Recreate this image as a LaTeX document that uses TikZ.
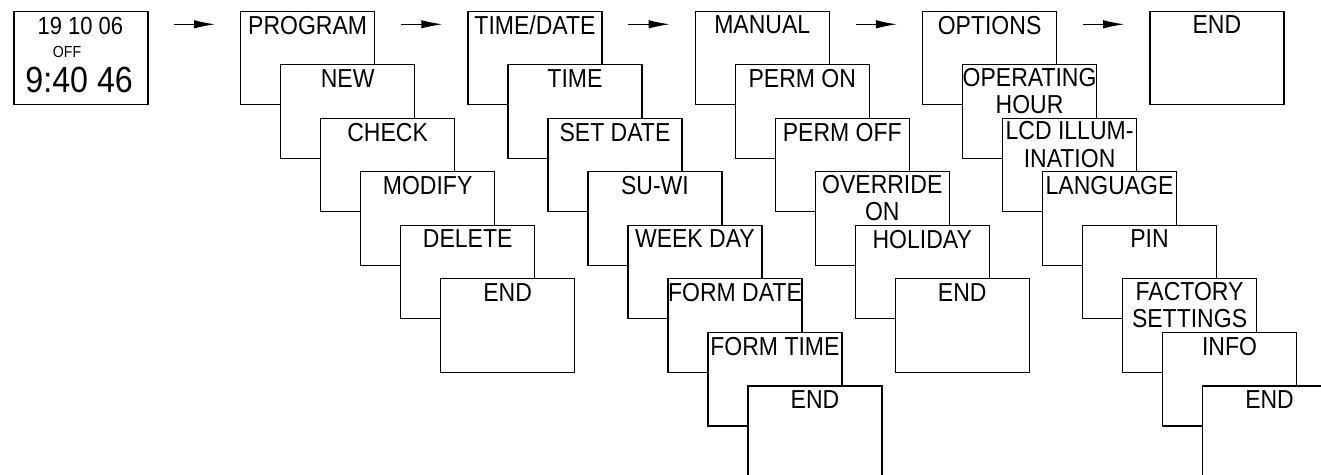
\documentclass[tikz,border=0pt]{standalone}
\usepackage{fontspec}
\newfontfamily\lsans{Liberation Sans}[FakeStretch=0.885]
\usetikzlibrary{calc,arrows.meta}
\tikzset{
  box/.style={draw=black, line width=0.65pt, fill=white, minimum width=67pt,
    minimum height=46.75pt, inner sep=0pt, anchor=north west},
  lbl/.style={inner sep=0pt, anchor=north, align=center,
    font=\lsans\fontsize{13}{13.8}\selectfont},
  arr/.style={-{Latex[length=10.5pt,width=4.2pt]}, line width=0.5pt,
    shorten <=12.85pt, shorten >=12.5pt},
}
\newcommand\menucol[3]{% prefix, left x, list of offset/text
  \foreach \o/\t [count=\j from 0] in {#3} {
    \node[box] (#1\j) at ({#2+40*\j},{10.7+53.5*\j}) {};
    \node[lbl] (#1\j t) at ($(#1\j.north)+(0,\o)$) {\t};
  }
}
\begin{document}
\begin{tikzpicture}[x=0.5pt,y=-0.5pt]
\useasboundingbox (0,0) rectangle (1321,475);
\clip (0,0) rectangle (1321,475);
% start display
\node[box] (s) at (13.3,10.7) {};
\node[inner sep=0pt, anchor=base, font=\lsans\fontsize{12.4}{14}\selectfont] (sd) at (80.3,34.7) {19 10 06};
\node[inner sep=0pt, anchor=base, font=\lsans\fontsize{8}{9}\selectfont] (so) at (67,57.3) {OFF};
\node[inner sep=0pt, anchor=base, font=\lsans\fontsize{18.2}{20}\selectfont] (st) at (79.2,93) {9:40 46};
% columns
\menucol{a}{240}{5/PROGRAM, 5/NEW, 5/CHECK, 5/MODIFY, 5/DELETE, 5/END}
\menucol{b}{467.3}{5/TIME\slash DATE, 5/TIME, 5/SET DATE, 5/SU-WI, 5/WEEK DAY, 5/FORM DATE, 5/FORM TIME, 5/END}
\menucol{c}{694.6}{5/MANUAL, 5/PERM ON, 5/PERM OFF, 3.4/{OVERRIDE\\ON}, 5/HOLIDAY, 5/END}
\menucol{d}{921.9}{5/OPTIONS, 3.4/{OPERATING\\HOUR}, 3.4/{LCD ILLUM-\\INATION}, 5/LANGUAGE, 5/PIN, 3.4/{FACTORY\\SETTINGS}, 5/INFO, 5/END}
\menucol{e}{1149.2}{5/END}
% arrows
\draw[arr] ($(s.north east)+(0,13.6)$) -- ($(a0.north west)+(0,13.6)$);
\draw[arr] ($(a0.north east)+(0,13.6)$) -- ($(b0.north west)+(0,13.6)$);
\draw[arr] ($(b0.north east)+(0,13.6)$) -- ($(c0.north west)+(0,13.6)$);
\draw[arr] ($(c0.north east)+(0,13.6)$) -- ($(d0.north west)+(0,13.6)$);
\draw[arr] ($(d0.north east)+(0,13.6)$) -- ($(e0.north west)+(0,13.6)$);
\end{tikzpicture}
\end{document}
